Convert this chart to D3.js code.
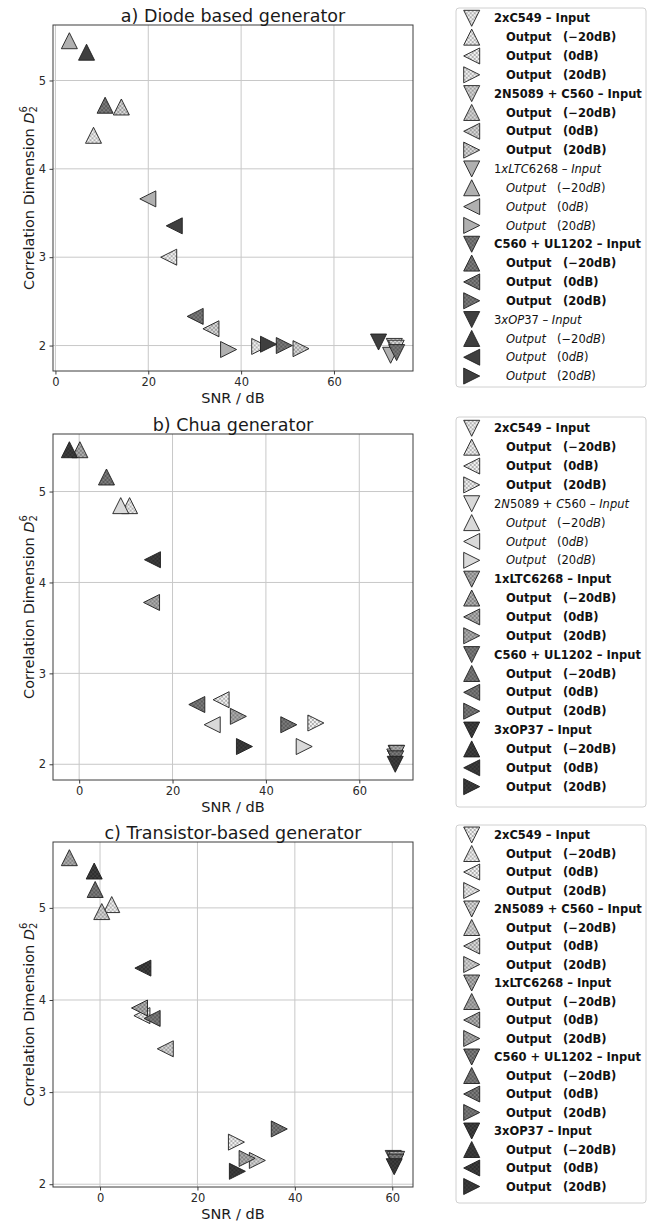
<!DOCTYPE html>
<html>
<head>
<meta charset="utf-8">
<script src="https://cdn.jsdelivr.net/npm/d3@7"></script>
<style>
  body { margin: 0; background: #fff; }
  text { font-family: "DejaVu Sans", sans-serif; }
</style>
</head>
<body>
<svg id="chart" width="651" height="1221"></svg>
<script>
// circuits and measurement points
const circuits = ["2xC549", "2N5089 + C560", "1xLTC6268", "C560 + UL1202", "3xOP37"];
const outputLabels = ["(\u221220dB)", "(0dB)", "(20dB)"];
const shapes = ["down", "up", "left", "right"]; // Input, -20dB, 0dB, 20dB
const fills = ["#f3f3f3", "#d9d9d9", "#b0b0b0", "#7d7d7d", "#3f3f3f"];
const xTicks = [0, 20, 40, 60];
const yTicks = [2, 3, 4, 5];

// a) diode based generator: [Input, -20dB, 0dB, 20dB] per circuit
const diodeSNR = [
  [73.0, 8.2, 24.4, 44.0],
  [73.4, 14.2, 33.5, 52.9],
  [72.2, 3.0, 19.9, 37.3],
  [73.5, 10.7, 30.1, 49.3],
  [69.6, 6.7, 25.6, 45.9]
];
const diodeD2 = [
  [1.99, 4.38, 3.0, 1.99],
  [1.97, 4.70, 2.19, 1.965],
  [1.89, 5.45, 3.66, 1.955],
  [1.92, 4.72, 2.33, 2.0],
  [2.04, 5.32, 3.355, 2.015]
];
const diodeHatch = [true, true, false, true, false];

// b) chua generator
const chuaSNR = [
  [67.9, 10.8, 30.4, 50.7],
  [67.6, 8.9, 28.5, 48.2],
  [68.0, 0.15, 15.5, 34.1],
  [67.8, 5.85, 25.2, 44.9],
  [67.7, -2.1, 15.7, 35.4]
];
const chuaD2 = [
  [2.12, 4.845, 2.71, 2.454],
  [2.08, 4.845, 2.435, 2.195],
  [2.12, 5.46, 3.78, 2.527],
  [2.06, 5.16, 2.657, 2.435],
  [2.0, 5.46, 4.25, 2.195]
];
const chuaHatch = [true, false, true, true, true];

// c) transistor-based generator
const transSNR = [
  [60.2, 2.4, 8.6, 28.0],
  [60.5, 0.35, 13.4, 32.3],
  [60.9, -6.3, 8.1, 30.2],
  [60.7, -1.0, 10.7, 36.8],
  [60.4, -1.2, 8.8, 28.2]
];
const transD2 = [
  [2.28, 5.036, 3.83, 2.457],
  [2.27, 4.96, 3.47, 2.258],
  [2.27, 5.545, 3.913, 2.28],
  [2.24, 5.2, 3.80, 2.60],
  [2.19, 5.40, 4.346, 2.14]
];
const transHatch = [true, true, true, true, true];

const panels = [
  {title: "a) Diode based generator", snr: diodeSNR, d2: diodeD2, hatch: diodeHatch,
   top: 25, bottom: 371, legTop: 8, legBottom: 387, legFirst: 18.3, legGap: 18.83},
  {title: "b) Chua generator", snr: chuaSNR, d2: chuaD2, hatch: chuaHatch,
   top: 434, bottom: 780, legTop: 417, legBottom: 807, legFirst: 428.3, legGap: 18.86},
  {title: "c) Transistor-based generator", snr: transSNR, d2: transD2, hatch: transHatch,
   top: 842, bottom: 1187, legTop: 825, legBottom: 1203, legFirst: 835, legGap: 18.5}
];

const left = 53, right = 413;
const legLeft = 456, legRight = 646;
const R = 8;

const svg = d3.select("#chart");
const defs = svg.append("defs");
const pat = defs.append("pattern")
  .attr("id", "dots")
  .attr("patternUnits", "userSpaceOnUse")
  .attr("width", 4).attr("height", 4);
pat.append("rect").attr("x", 0.4).attr("y", 0.4).attr("width", 1.2).attr("height", 1.2).attr("fill", "#000");
pat.append("rect").attr("x", 2.4).attr("y", 2.4).attr("width", 1.2).attr("height", 1.2).attr("fill", "#000");

function tri(shape, r) {
  if (shape == "up") return `M0,${-r}L${-r},${r}L${r},${r}Z`;
  if (shape == "down") return `M0,${r}L${-r},${-r}L${r},${-r}Z`;
  if (shape == "left") return `M${-r},0L${r},${-r}L${r},${r}Z`;
  return `M${r},0L${-r},${-r}L${-r},${r}Z`;
}

function drawMarker(g, shape, fill, hatch) {
  const d = tri(shape, R);
  g.append("path").attr("d", d).attr("fill", fill);
  if (hatch) g.append("path").attr("d", d).attr("fill", "url(#dots)").attr("fill-opacity", 0.75);
  g.append("path").attr("d", d).attr("fill", "none")
    .attr("stroke", "#1e1e1e").attr("stroke-width", 0.9);
}

// mathtext-like text: letters italic, rest upright
function addRuns(txt, str, math) {
  if (!math) { txt.append("tspan").text(str); return; }
  str.split(/([A-Za-z]+)/).filter(s => s.length).forEach(s => {
    const t = txt.append("tspan").text(s);
    if (/^[A-Za-z]+$/.test(s)) t.attr("font-style", "italic");
  });
}

function pad(ext) {
  const m = (ext[1] - ext[0]) * 0.05;
  return [ext[0] - m, ext[1] + m];
}

panels.forEach(p => {
  const g = svg.append("g");
  const x = d3.scaleLinear().domain(pad(d3.extent(p.snr.flat()))).range([left, right]);
  const y = d3.scaleLinear().domain(pad(d3.extent(p.d2.flat()))).range([p.bottom, p.top]);

  // grid
  g.append("g").selectAll("line").data(xTicks).join("line")
    .attr("x1", d => x(d)).attr("x2", d => x(d))
    .attr("y1", p.top).attr("y2", p.bottom)
    .attr("stroke", "#c8c8c8").attr("stroke-width", 1);
  g.append("g").selectAll("line").data(yTicks).join("line")
    .attr("x1", left).attr("x2", right)
    .attr("y1", d => y(d)).attr("y2", d => y(d))
    .attr("stroke", "#c8c8c8").attr("stroke-width", 1);

  // axes
  const xa = g.append("g").attr("transform", `translate(0,${p.bottom})`)
    .call(d3.axisBottom(x).tickValues(xTicks).tickFormat(d3.format("d")).tickSize(3.5).tickPadding(3.5));
  const ya = g.append("g").attr("transform", `translate(${left},0)`)
    .call(d3.axisLeft(y).tickValues(yTicks).tickFormat(d3.format("d")).tickSize(3.5).tickPadding(3.5));
  [xa, ya].forEach(a => {
    a.select(".domain").remove();
    a.selectAll("line").attr("stroke", "#3d3d3d");
    a.selectAll("text").attr("font-size", 11.5).attr("fill", "#2a2a2a")
      .attr("font-family", "DejaVu Sans");
  });

  // spines
  g.append("rect").attr("x", left).attr("y", p.top)
    .attr("width", right - left).attr("height", p.bottom - p.top)
    .attr("fill", "none").attr("stroke", "#3d3d3d").attr("stroke-width", 1);

  // markers
  p.snr.forEach((row, ci) => {
    row.forEach((v, k) => {
      const m = g.append("g").attr("transform", `translate(${x(v)},${y(p.d2[ci][k])})`);
      drawMarker(m, shapes[k], fills[ci], p.hatch[ci]);
    });
  });

  // title and labels
  g.append("text").attr("x", (left + right) / 2).attr("y", p.top - 3.5)
    .attr("text-anchor", "middle").attr("font-size", 17.5).attr("fill", "#1a1a1a")
    .text(p.title);
  g.append("text").attr("x", (left + right) / 2).attr("y", p.bottom + 32)
    .attr("text-anchor", "middle").attr("font-size", 14.5).attr("fill", "#1a1a1a")
    .text("SNR / dB");
  const yl = g.append("text")
    .attr("transform", `translate(33.5,${(p.top + p.bottom) / 2}) rotate(-90)`)
    .attr("text-anchor", "middle").attr("font-size", 14.5).attr("fill", "#1a1a1a");
  yl.append("tspan").text("Correlation Dimension ");
  yl.append("tspan").attr("font-style", "italic").text("D");
  yl.append("tspan").attr("font-size", 10).attr("dy", 3.5).text("2");
  yl.append("tspan").attr("font-size", 10).attr("dx", -6.4).attr("dy", -10).text("6");

  // legend
  g.append("rect").attr("x", legLeft).attr("y", p.legTop)
    .attr("width", legRight - legLeft).attr("height", p.legBottom - p.legTop)
    .attr("rx", 3).attr("fill", "#fff").attr("stroke", "#d0d0d0").attr("stroke-width", 1);
  circuits.forEach((name, ci) => {
    const math = !p.hatch[ci];
    shapes.forEach((s, k) => {
      const ry = p.legFirst + (ci * 4 + k) * p.legGap;
      const m = g.append("g").attr("transform", `translate(471.7,${ry})`);
      drawMarker(m, s, fills[ci], p.hatch[ci]);
      const t = g.append("text").attr("y", ry).attr("dy", "0.36em")
        .attr("font-size", 11.5).attr("fill", "#111")
        .attr("font-weight", math ? "normal" : "bold");
      if (k == 0) {
        t.attr("x", 494);
        addRuns(t, name + " \u2013 Input", math);
      } else {
        t.attr("x", 506);
        addRuns(t, "Output", math);
        const t2 = g.append("text").attr("x", math ? 557 : 563).attr("y", ry).attr("dy", "0.36em")
          .attr("font-size", 11.5).attr("fill", "#111")
          .attr("font-weight", math ? "normal" : "bold");
        addRuns(t2, outputLabels[k - 1], math);
      }
    });
  });
});
</script>
</body>
</html>
